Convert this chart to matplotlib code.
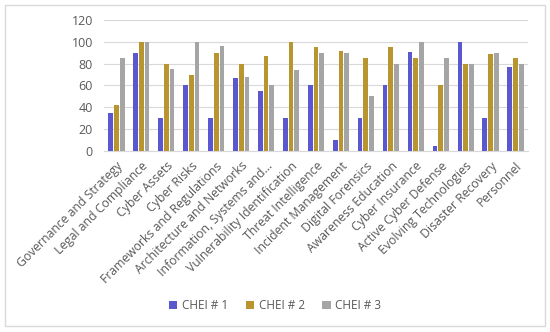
import numpy as np
import matplotlib
matplotlib.use("Agg")
import matplotlib.pyplot as plt
from matplotlib.patches import Rectangle

categories = ["Governance and Strategy", "Legal and Compliance", "Cyber Assets",
              "Cyber Risks", "Frameworks and Regulations", "Architecture and Networks",
              "Information, Systems and...", "Vulnerability Identification",
              "Threat Intelligence", "Incident Management", "Digital Forensics",
              "Awareness Education", "Cyber Insurance", "Active Cyber Defense",
              "Evolving Technologies", "Disaster Recovery", "Personnel"]
chei1 = [35, 90, 30, 60, 30, 67, 55, 30, 60, 10, 30, 60, 91, 5, 100, 30, 77]
chei2 = [42, 100, 80, 70, 90, 80, 87, 100, 95, 92, 85, 95, 85, 60, 80, 89, 85]
chei3 = [85, 100, 75, 100, 96, 68, 60, 74, 90, 90, 50, 80, 100, 85, 80, 90, 80]
series_names = ["CHEI # 1", "CHEI # 2", "CHEI # 3"]
yticks = [0, 20, 40, 60, 80, 100, 120]

colors = ["#5b57cf", "#b8952e", "#a5a5a5"]
text_color = "#595959"
plt.rcParams["font.family"] = ["Open Sans", "DejaVu Sans"]

fig = plt.figure(figsize=(5.5, 3.32), dpi=100)
ax = fig.add_axes([0.189, 0.545, 0.771, 0.395])

x = np.arange(len(categories))
w = 0.19
for i, (vals, name) in enumerate(zip([chei1, chei2, chei3], series_names)):
    ax.bar(x + (i - 1) * 0.23, vals, width=w, color=colors[i], label=name, zorder=3)

ax.set_xlim(-0.5, len(categories) - 0.5)
ax.set_ylim(0, 120)
ax.set_yticks(yticks)
ax.yaxis.grid(True, color="#d9d9d9", linewidth=0.8, zorder=0)
for s in ["top", "right", "left"]:
    ax.spines[s].set_visible(False)
ax.spines["bottom"].set_color("#d9d9d9")
ax.tick_params(axis="both", length=0, colors=text_color, labelsize=9, pad=8)
ax.set_xticks(x)
ax.set_xticklabels(categories, rotation=45, ha="right", rotation_mode="anchor",
                   fontsize=8.8, color=text_color)
ax.tick_params(axis="x", pad=6)

leg = fig.legend(loc="center", bbox_to_anchor=(0.5, 0.08), ncol=3, frameon=False,
                 fontsize=8.5, handlelength=0.7, handleheight=0.7, columnspacing=1.5,
                 handletextpad=0.4)
for t in leg.get_texts():
    t.set_color(text_color)

fig.patches.append(Rectangle((0.009, 0.018), 0.981, 0.967, transform=fig.transFigure,
                             fill=False, edgecolor="#d9d9d9", linewidth=1))

fig.savefig("out.png", dpi=100)
